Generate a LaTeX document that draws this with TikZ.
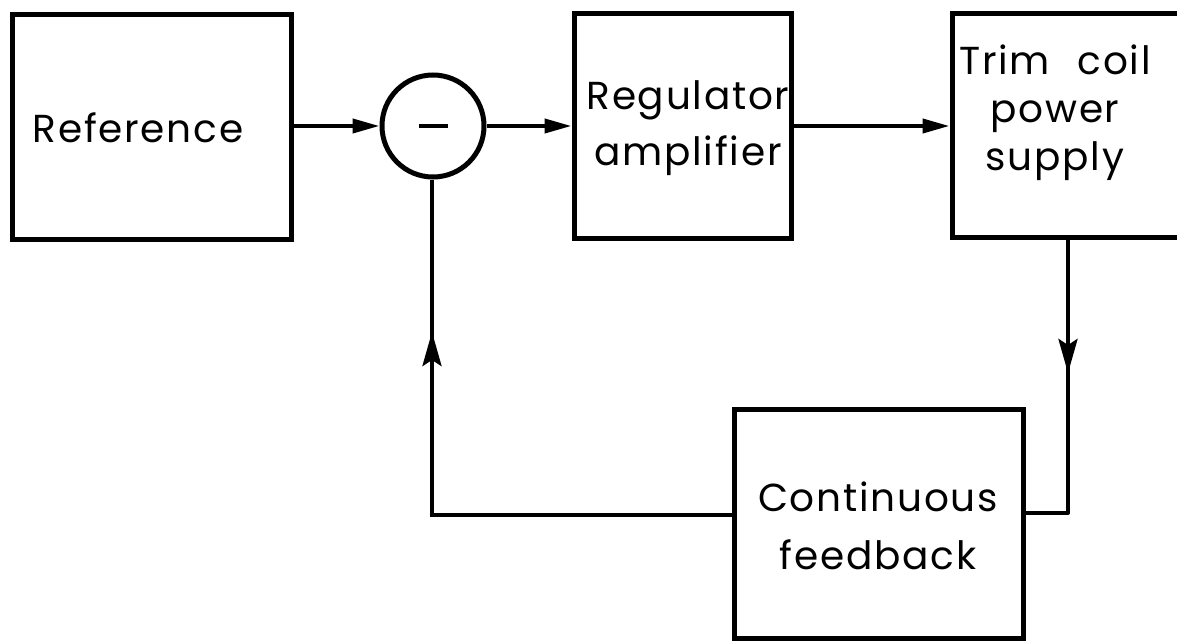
\documentclass[tikz,border=0pt]{standalone}
\usepackage{fontspec}
\setmainfont{Poppins}[LetterSpace=4.5]
\usetikzlibrary{arrows.meta}
\begin{document}
\begin{tikzpicture}[x=1pt,y=-1pt,
  blk/.style={draw,line width=5pt,minimum width=#1,inner sep=0pt},
  lbl/.style={font=\fontsize{39}{56}\selectfont,align=center,inner sep=0pt},
  conn/.style={line width=4pt},
  harr/.style={conn,-{Triangle[length=27pt,width=14pt]}},
  varr/.style={conn,-{Stealth[length=34pt,width=19pt,inset=6pt]}}]
\useasboundingbox (0,0) rectangle (1177,642);
% blocks
\node[blk=279pt,minimum height=224pt] (ref) at (151.5,127) {};
\node[lbl] (reftext) at (138,128) {Reference};
\node[draw,circle,line width=5pt,minimum size=102pt,inner sep=0pt] (sum) at (433,126) {};
\node[inner sep=0pt] (minus) at (433,126) {};
\draw[line width=4.5pt] ([xshift=-14.5pt]minus.center) -- ([xshift=14.5pt]minus.center);
\node[blk=217pt,minimum height=224pt] (reg) at (682.5,126) {};
\node[lbl] (regtext) at (688,128) {Regulator\\amplifier};
\node[blk=250pt,minimum height=223pt] (trim) at (1077,125.5) {};
\node[lbl,font=\fontsize{39}{48}\selectfont] (trimtext) at (1055,113) {Trim\hspace{0.4em} coil\\power\\supply};
\node[blk=289pt,minimum height=229pt] (fb) at (878.5,523.5) {};
\node[lbl,font=\fontsize{39}{58}\selectfont] (fbtext) at (878,526) {Continuous\\feedback};
% connectors
\coordinate (tdown) at (1068,237);
\coordinate (tarr) at (1068,373);
\coordinate (tcorner) at (1068,513);
\coordinate (fbin) at (1023,513);
\coordinate (fbout) at (734,515);
\coordinate (fcorner) at (432,515);
\coordinate (farr) at (432,332);
\draw[harr] (ref.east |- sum.west) -- (sum.west);
\draw[harr] (sum.east) -- (reg.west |- sum.east);
\draw[harr] (reg.east) -- (trim.west |- reg.east);
\draw[conn,line join=round] (tdown) -- (tcorner) -- (fbin);
\draw[varr] (tdown) -- (tarr);
\draw[conn] (fbout) -- (fcorner) -- (sum.south -| fcorner);
\draw[varr] (fcorner) -- (farr);
\end{tikzpicture}
\end{document}
